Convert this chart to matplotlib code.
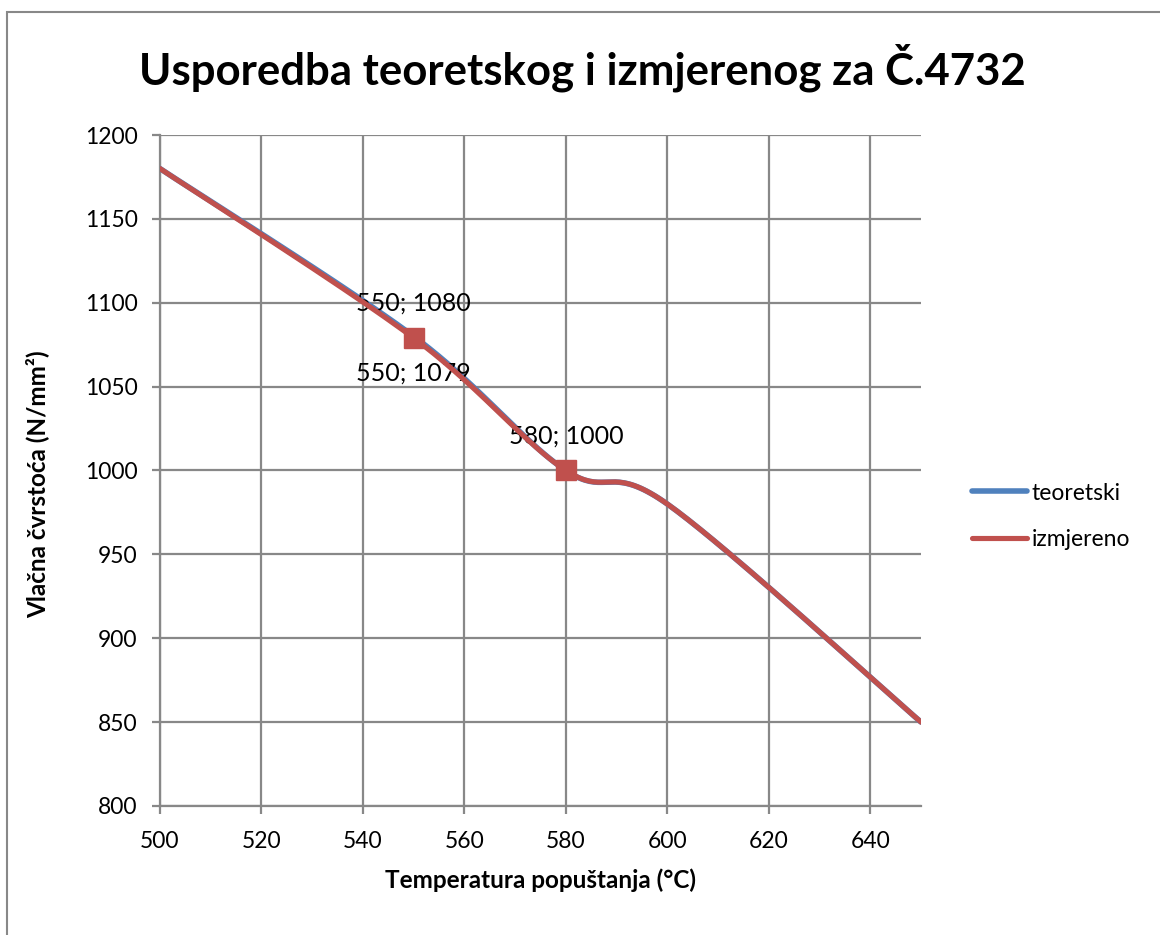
import numpy as np
import matplotlib

matplotlib.use("Agg")
import matplotlib.pyplot as plt
from matplotlib.patches import Rectangle

# podaci
temperature = [500, 550, 580, 600, 650]
teoretski = [1180, 1080, 1000, 980, 850]
izmjereno = [1180, 1079, 1000, 980, 850]
oznake_izmjereno = [1, 2]  # indeksi izmjerenih točaka s markerom

TITLE = "Usporedba teoretskog i izmjerenog za Č.4732"
XLABEL = "Temperatura popuštanja (°C)"
YLABEL = "Vlačna čvrstoća (N/mm²)"

BLUE = "#4F81BD"
RED = "#C0504D"
GRID = "#888888"

plt.rcParams["font.family"] = ["Lato", "DejaVu Sans"]


def smooth(xs, ys, steps=40):
    # Excel-like zaglađivanje (Catmull-Rom / Bezier)
    x = np.asarray(xs, float)
    y = np.asarray(ys, float)
    px = np.concatenate([[x[0]], x, [x[-1]]])
    py = np.concatenate([[y[0]], y, [y[-1]]])
    out_x, out_y = [], []
    t = np.linspace(0, 1, steps)
    for i in range(1, len(px) - 2):
        p0 = np.array([px[i], py[i]])
        p3 = np.array([px[i + 1], py[i + 1]])
        p1 = p0 + (np.array([px[i + 1], py[i + 1]]) - np.array([px[i - 1], py[i - 1]])) / 6
        p2 = p3 - (np.array([px[i + 2], py[i + 2]]) - np.array([px[i], py[i]])) / 6
        b = ((1 - t) ** 3)[:, None] * p0 + (3 * (1 - t) ** 2 * t)[:, None] * p1 \
            + (3 * (1 - t) * t ** 2)[:, None] * p2 + (t ** 3)[:, None] * p3
        out_x.extend(b[:, 0])
        out_y.extend(b[:, 1])
    return out_x, out_y


fig = plt.figure(figsize=(11.6, 9.35), dpi=100)
ax = fig.add_axes([0.1379, 0.138, 0.6561, 0.7176])

fig.patches.append(Rectangle((7 / 1160, -0.1), 1.2, 1 - 12 / 935 + 0.1, transform=fig.transFigure,
                             fill=False, edgecolor=GRID, linewidth=1.5))

sx, sy = smooth(temperature, teoretski)
ax.plot(sx, sy, color=BLUE, linewidth=4.0, solid_capstyle="round", label="teoretski", zorder=3)
sx, sy = smooth(temperature, izmjereno)
ax.plot(sx, sy, color=RED, linewidth=3.7, solid_capstyle="round", label="izmjereno", zorder=4)
ax.plot([temperature[i] for i in oznake_izmjereno], [izmjereno[i] for i in oznake_izmjereno],
        linestyle="none", marker="s", markersize=14, color=RED, zorder=5)

ax.annotate(f"{temperature[1]}; {teoretski[1]}", (temperature[1], teoretski[1]), xytext=(0, 24),
            textcoords="offset points", ha="center", va="center", fontsize=18)
ax.annotate(f"{temperature[1]}; {izmjereno[1]}", (temperature[1], izmjereno[1]), xytext=(0, -25),
            textcoords="offset points", ha="center", va="center", fontsize=18)
ax.annotate(f"{temperature[2]}; {izmjereno[2]}", (temperature[2], izmjereno[2]), xytext=(0, 25),
            textcoords="offset points", ha="center", va="center", fontsize=18)

ax.set_xlim(500, 650)
ax.set_ylim(800, 1200)
ax.set_xticks(np.arange(500, 641, 20))
ax.set_yticks(np.arange(800, 1201, 50))
ax.grid(True, color=GRID, linewidth=1.6)
ax.set_axisbelow(True)
for side in ("top", "right"):
    ax.spines[side].set_visible(False)
for side in ("left", "bottom"):
    ax.spines[side].set_color(GRID)
    ax.spines[side].set_linewidth(1.6)
ax.tick_params(axis="both", colors=GRID, length=6, width=1.6, labelsize=16.5, labelcolor="black")
ax.tick_params(axis="x", pad=12)
ax.tick_params(axis="y", pad=10)

ax.set_xlabel(XLABEL, fontsize=17.5, fontweight="bold", labelpad=12)
ax.set_ylabel(YLABEL, fontsize=17.5, fontweight="bold")
ax.yaxis.set_label_coords(-0.146, 0.48)
fig.text(0.502, 0.928, TITLE, ha="center", va="center", fontsize=31.5, fontweight="bold")

ax.legend(loc="center left", bbox_to_anchor=(1.04, 0.432), frameon=False, fontsize=16.5,
          handlelength=2.4, handletextpad=0.2, labelspacing=1.1)

fig.savefig("out.png", dpi=100)
